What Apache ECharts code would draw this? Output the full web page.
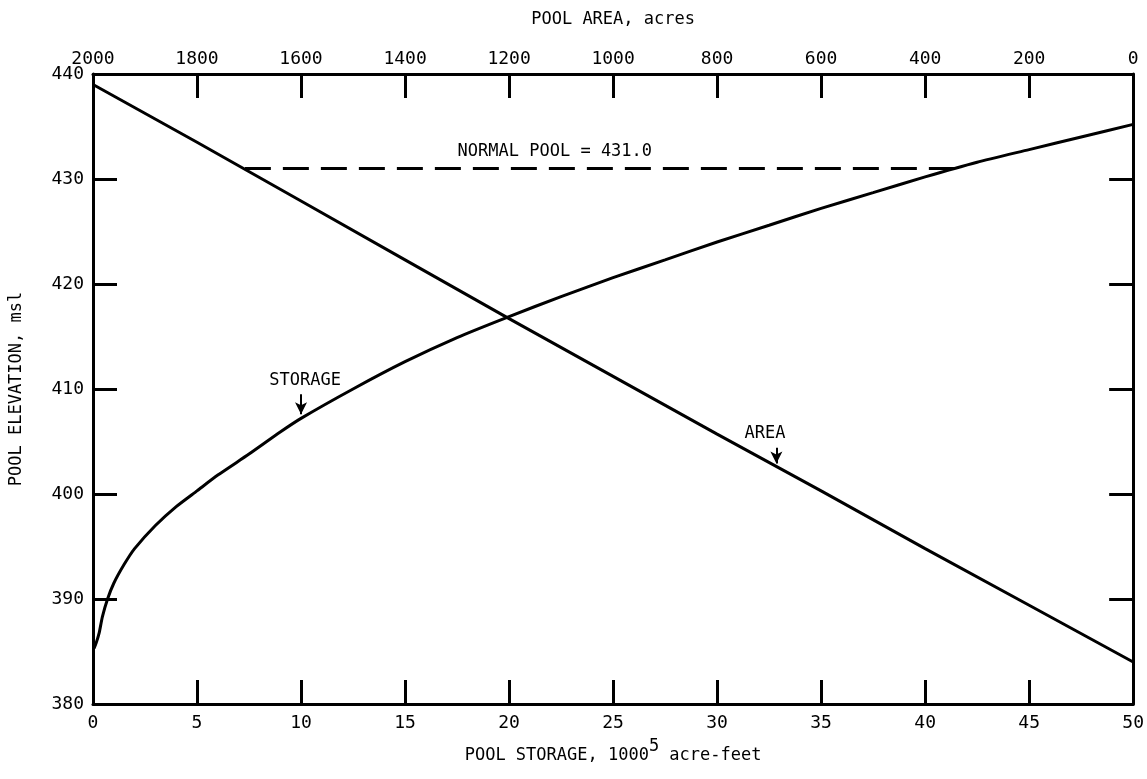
<!DOCTYPE html>
<html><head><meta charset="utf-8">
<script src="https://cdn.jsdelivr.net/npm/echarts@6/dist/echarts.min.js"></script>
<style>html,body{margin:0;padding:0;background:#fff}#c{width:1147px;height:779px}</style>
</head><body><div id="c"></div>
<script>
// Storage curve: pool storage (1000s acre-feet) vs elevation (ft msl)
const storageX = [0.05, 0.15, 0.3, 0.45, 0.7, 1.0, 1.5, 2, 3, 4, 5, 6, 7.5, 9, 10, 12.5, 15, 17.5, 20, 22.5, 25, 27.5, 30, 32.5, 35, 37.5, 40, 42.5, 45, 47.5, 50];
const storageElev = [385.3, 385.8, 386.8, 388.3, 390, 391.5, 393.3, 394.8, 397.0, 398.8, 400.3, 401.8, 403.8, 405.9, 407.2, 410.0, 412.6, 414.9, 416.9, 418.8, 420.6, 422.3, 424.0, 425.6, 427.2, 428.7, 430.2, 431.6, 432.8, 434.0, 435.2];
// Area curve: pool area (acres) vs elevation
const areaX = [2000, 1800, 1600, 1400, 1200, 1000, 800, 600, 400, 200, 0];
const areaElev = [439.0, 433.5, 427.9, 422.3, 416.7, 411.2, 405.7, 400.3, 394.8, 389.4, 384.0];
// Normal pool line
const normalPool = 431.0;
const normalPoolStorage = [7.3, 41.8];
// Axis ranges / ticks
const storageTicks = [0, 50, 5];
const areaTicks = [0, 2000, 200];
const elevTicks = [380, 440, 10];

const FONT = 'DejaVu Sans Mono';
const black = '#000';
const FS = 18;
const chart = echarts.init(document.getElementById('c'), null, {renderer: 'canvas'});

const axisLine = {show: true, lineStyle: {color: black, width: 3}};
const axisTick = (show) => ({show: show, inside: true, length: 24, lineStyle: {color: black, width: 3}});

chart.setOption({
  animation: false,
  backgroundColor: '#fff',
  grid: {left: 86, right: 9, top: 74, bottom: 75, containLabel: false},
  xAxis: [
    {
      type: 'value', position: 'bottom', min: storageTicks[0], max: storageTicks[1], interval: storageTicks[2],
      axisLine: axisLine, axisTick: axisTick(true), splitLine: {show: false},
      axisLabel: {color: black, fontFamily: FONT, fontSize: FS, margin: 10, formatter: v => String(v)},
      name: '{a|POOL STORAGE, 1000}{s|5}{a| acre-feet}', nameLocation: 'middle', nameGap: 40,
      nameTextStyle: {rich: {
        a: {fontFamily: FONT, fontSize: 17, color: black, verticalAlign: 'bottom', lineHeight: 20},
        s: {fontFamily: FONT, fontSize: 17, color: black, verticalAlign: 'bottom', lineHeight: 20, padding: [0, 0, 9, 0]}
      }}
    },
    {
      type: 'value', position: 'top', min: areaTicks[0], max: areaTicks[1], interval: areaTicks[2], inverse: true,
      axisLine: axisLine, axisTick: axisTick(true), splitLine: {show: false},
      axisLabel: {color: black, fontFamily: FONT, fontSize: FS, margin: 6, formatter: v => String(v)},
      name: 'POOL AREA, acres', nameLocation: 'middle', nameGap: 46,
      nameTextStyle: {fontFamily: FONT, fontSize: 17, color: black}
    }
  ],
  yAxis: [
    {
      type: 'value', position: 'left', min: elevTicks[0], max: elevTicks[1], interval: elevTicks[2],
      axisLine: axisLine, axisTick: axisTick(true), splitLine: {show: false},
      axisLabel: {color: black, fontFamily: FONT, fontSize: FS, margin: 9, formatter: v => String(v)},
      name: 'POOL ELEVATION, msl', nameLocation: 'middle', nameGap: 68, nameRotate: 90,
      nameTextStyle: {fontFamily: FONT, fontSize: 17, color: black}
    },
    {
      type: 'value', position: 'right', min: elevTicks[0], max: elevTicks[1], interval: elevTicks[2],
      axisLine: axisLine, axisTick: axisTick(true), splitLine: {show: false},
      axisLabel: {show: false}
    }
  ],
  series: [
    {
      name: 'STORAGE', type: 'line', xAxisIndex: 0, yAxisIndex: 0, smooth: 0.2, symbol: 'none',
      lineStyle: {color: black, width: 3},
      data: storageX.map((x, i) => [x, storageElev[i]]),
      markLine: {
        silent: true, symbol: ['none', 'arrow'], symbolSize: [9, 12],
        lineStyle: {color: black, width: 2, type: 'solid'}, label: {show: false},
        data: [[{coord: [10, 409.5]}, {coord: [10, 407.6]}]]
      },
      markPoint: {
        silent: true, symbol: 'circle', symbolSize: 0,
        label: {show: true, color: black, fontFamily: FONT, fontSize: 17, position: 'inside'},
        data: [{coord: [10.2, 410.8], value: 'STORAGE'}]
      }
    },
    {
      name: 'AREA', type: 'line', xAxisIndex: 1, yAxisIndex: 0, smooth: false, symbol: 'none',
      lineStyle: {color: black, width: 3},
      data: areaX.map((x, i) => [x, areaElev[i]]),
      markLine: {
        silent: true, symbol: ['none', 'arrow'], symbolSize: [9, 12],
        lineStyle: {color: black, width: 2, type: 'solid'}, label: {show: false},
        data: [[{coord: [686, 404.4]}, {coord: [686, 402.9]}]]
      },
      markPoint: {
        silent: true, symbol: 'circle', symbolSize: 0,
        label: {show: true, color: black, fontFamily: FONT, fontSize: 17, position: 'inside'},
        data: [{coord: [708, 405.8], value: 'AREA'}]
      }
    },
    {
      name: 'NORMAL POOL', type: 'line', xAxisIndex: 0, yAxisIndex: 0, symbol: 'none',
      lineStyle: {color: black, width: 3, type: [26, 12]},
      data: normalPoolStorage.map(x => [x, normalPool]),
      markPoint: {
        silent: true, symbol: 'circle', symbolSize: 0,
        label: {show: true, color: black, fontFamily: FONT, fontSize: 17, position: 'inside'},
        data: [{coord: [22.2, 432.6], value: 'NORMAL POOL = 431.0'}]
      }
    }
  ]
});
</script></body></html>
